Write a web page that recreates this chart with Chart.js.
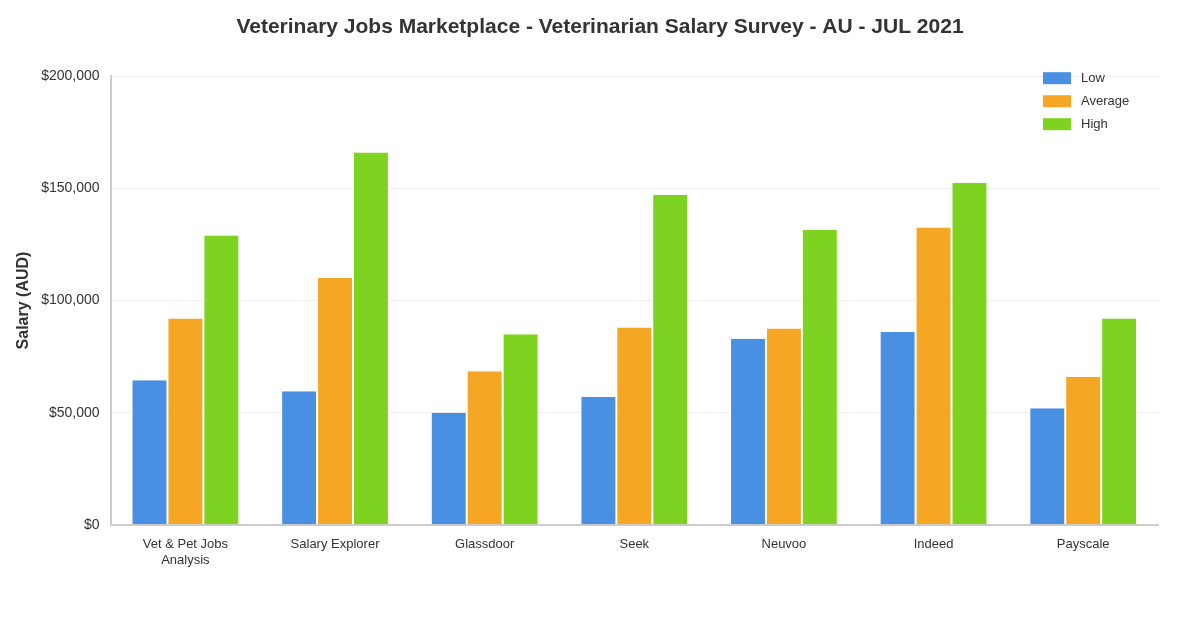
<!DOCTYPE html>
<html>
<head>
<meta charset="utf-8">
<script src="https://cdn.jsdelivr.net/npm/chart.js@4/dist/chart.umd.min.js"></script>
<style>
  html, body { margin: 0; padding: 0; background: #fff; }
  #wrap { width: 1200px; height: 630px; }
</style>
</head>
<body>
<div id="wrap"><canvas id="myChart" width="1200" height="630"></canvas></div>
<script>
const sources = [['Vet & Pet Jobs', 'Analysis'], 'Salary Explorer', 'Glassdoor', 'Seek', 'Neuvoo', 'Indeed', 'Payscale'];
const lowSalary = [64500, 59500, 50000, 57000, 83000, 86000, 52000];
const averageSalary = [92000, 110000, 68500, 88000, 87500, 132500, 66000];
const highSalary = [129000, 166000, 85000, 147000, 131500, 152500, 92000];
const yTicks = [0, 50000, 100000, 150000, 200000];

// legend drawn inside the plot, top right
const insideLegend = {
    id: 'insideLegend',
    afterLayout(chart) {
        // center the title on the whole canvas, not the padded area
        if (chart.titleBlock) {
            chart.titleBlock.left = 0;
            chart.titleBlock.right = chart.width;
        }
    },
    afterDraw(chart) {
        const ctx = chart.ctx;
        const x = chart.chartArea.right - 115;
        ctx.save();
        ctx.font = '13px "Liberation Sans", Arial, sans-serif';
        ctx.textBaseline = 'middle';
        chart.data.datasets.forEach((ds, i) => {
            const y = chart.chartArea.top + 2 + i * 23;
            ctx.fillStyle = ds.backgroundColor;
            ctx.fillRect(x, y - 6, 28, 12);
            ctx.fillStyle = '#333';
            ctx.fillText(ds.label, x + 38, y);
        });
        ctx.restore();
    }
};

const ctx = document.getElementById('myChart').getContext('2d');
window.myChart = new Chart(ctx, {
    type: 'bar',
    data: {
        labels: sources,
        datasets: [
            { label: 'Low', data: lowSalary, backgroundColor: '#4a90e2' },
            { label: 'Average', data: averageSalary, backgroundColor: '#f5a623' },
            { label: 'High', data: highSalary, backgroundColor: '#7ed321' }
        ]
    },
    options: {
        responsive: false,
        animation: false,
        datasets: {
            bar: {
                categoryPercentage: 0.72,
                barPercentage: 1.0,
                borderColor: '#ffffff',
                borderWidth: { left: 1, right: 1 },
                borderSkipped: false
            }
        },
        layout: {
            padding: { left: 14, right: 42, top: 0, bottom: 50 }
        },
        scales: {
            x: {
                grid: { display: false, drawTicks: false },
                border: { color: '#cccccc', width: 2 },
                ticks: {
                    color: '#333',
                    padding: 12,
                    maxRotation: 0,
                    font: { family: '"Liberation Sans", Arial, sans-serif', size: 13 }
                }
            },
            y: {
                min: 0,
                max: 200000,
                afterBuildTicks: (axis) => { axis.ticks = yTicks.map(v => ({ value: v })); },
                grid: { color: '#eeeeee', drawTicks: false },
                border: { color: '#cccccc', width: 2 },
                ticks: {
                    color: '#333',
                    padding: 11,
                    font: { family: '"Liberation Sans", Arial, sans-serif', size: 14 },
                    callback: (v) => '$' + v.toLocaleString('en-US')
                },
                title: {
                    display: true,
                    text: 'Salary (AUD)',
                    color: '#333',
                    padding: { top: 0, bottom: -3 },
                    font: { family: '"Liberation Sans", Arial, sans-serif', size: 16, weight: 'bold' }
                }
            }
        },
        plugins: {
            title: {
                display: true,
                text: 'Veterinary Jobs Marketplace - Veterinarian Salary Survey - AU - JUL 2021',
                color: '#333',
                padding: { top: 15, bottom: 36 },
                font: { family: '"Liberation Sans", Arial, sans-serif', size: 21, weight: 'bold' }
            },
            legend: { display: false },
            tooltip: { enabled: false }
        }
    },
    plugins: [insideLegend]
});
</script>
</body>
</html>
